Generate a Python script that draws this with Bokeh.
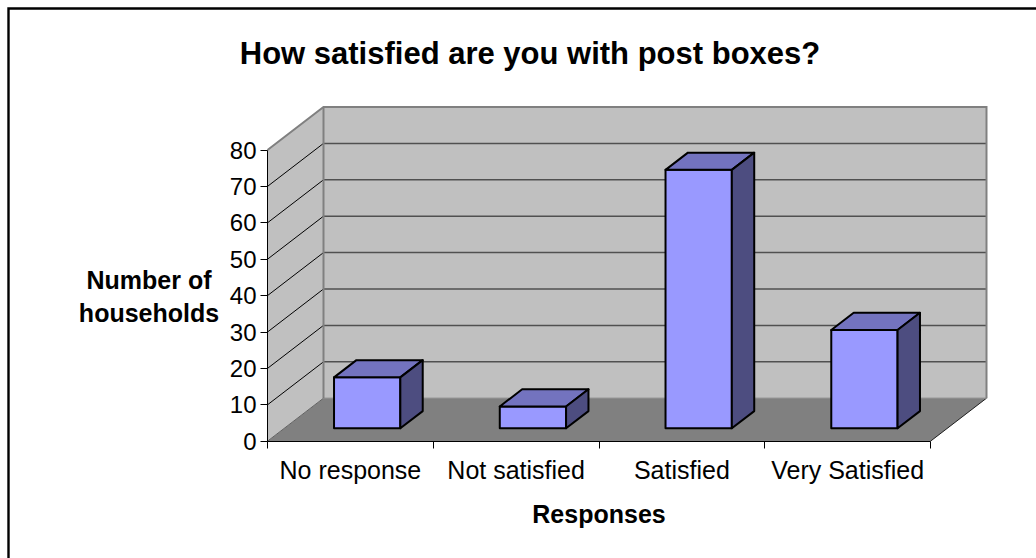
from bokeh.embed import file_html
from bokeh.resources import INLINE
from bokeh.plotting import figure
from bokeh.models import ColumnDataSource, FixedTicker, Label, Range1d

# Survey results
categories = ["No response", "Not satisfied", "Satisfied", "Very Satisfied"]
households = [14, 6, 71, 27]
value_ticks = [0, 10, 20, 30, 40, 50, 60, 70, 80]
chart_title = "How satisfied are you with post boxes?"
x_title = "Responses"
y_title = "Number of\nhouseholds"

FONT = "Liberation Sans"

# Scale of the chart in pixels per unit, and where its origin sits on the page
W, H = 1036, 558
PX_X, PX_Y = 165.75, 3.64
ORIGIN_X, ORIGIN_Y = 267.0, 440.7


def from_px(px, py):
    return (px - ORIGIN_X) / PX_X, (ORIGIN_Y - py) / PX_Y


# Oblique projection: depth 0 is the front plane, depth 1 the back wall
SHIFT_X, SHIFT_Y = 56.0 / PX_X, 43.0 / PX_Y


def project(x, v, depth=0.0):
    return x + SHIFT_X * depth, v + SHIFT_Y * depth


def polygon(points):
    xs, ys = zip(*[project(*pt) for pt in points])
    return list(xs), list(ys)


x0, y1 = from_px(0, 0)
x1, y0 = from_px(W, H)
p = figure(
    width=W, height=H, output_backend="svg", toolbar_location=None,
    x_range=Range1d(x0, x1), y_range=Range1d(y0, y1),
    min_border=0, min_border_left=0, min_border_right=0,
    min_border_top=0, min_border_bottom=0,
    background_fill_color="white", border_fill_color="white",
)
p.outline_line_color = None
p.grid.visible = False

n = len(categories)
top = value_ticks[-1]

# Floor
fx, fy = polygon([(0, 0, 0), (n, 0, 0), (n, 0, 1), (0, 0, 1)])
p.patch(fx, fy, fill_color="#808080", line_color=None)
ex, ey = polygon([(n, 0, 0), (n, 0, 1)])
p.line(ex, ey, line_color="#202020", line_width=1)

# Back and side walls
bx, by = polygon([(0, 0, 1), (n, 0, 1), (n, top, 1), (0, top, 1)])
p.patch(bx, by, fill_color="#C0C0C0", line_color=None)
sx, sy = polygon([(0, 0, 0), (0, 0, 1), (0, top, 1), (0, top, 0)])
p.patch(sx, sy, fill_color="#C0C0C0", line_color=None)

# Grid lines on both walls
for v in value_ticks[1:-1]:
    lx, ly = polygon([(0, v, 1), (n, v, 1)])
    p.line(lx, ly, line_color="#505050", line_width=1.5)
for v in value_ticks[1:-1]:
    lx, ly = polygon([(0, v, 0), (0, v, 1)])
    p.line(lx, ly, line_color="#000000", line_width=1)

# Wall outlines
ox, oy = polygon([(0, top, 0), (0, top, 1), (n, top, 1), (n, 0, 1)])
p.line(ox, oy, line_color="#808080", line_width=2, line_join="miter")
ox, oy = polygon([(0, 0, 1), (0, top, 1)])
p.line(ox, oy, line_color="#808080", line_width=2)
ox, oy = polygon([(0, 0, 0), (0, 0, 1)])
p.line(ox, oy, line_color="#606060", line_width=1)
ox, oy = polygon([(0, 0, 1), (n, 0, 1)])
p.line(ox, oy, line_color="#808080", line_width=1)

# Bars as three visible faces of a box
BAR_WIDTH = 0.4
NEAR, FAR = 0.30, 0.70
faces = {"xs": [], "ys": [], "color": []}
for i, h in enumerate(households):
    a, b = i + 0.5 - BAR_WIDTH / 2, i + 0.5 + BAR_WIDTH / 2
    for points, color in [
        ([(a, 0, NEAR), (b, 0, NEAR), (b, h, NEAR), (a, h, NEAR)], "#9999FF"),
        ([(a, h, NEAR), (b, h, NEAR), (b, h, FAR), (a, h, FAR)], "#7373BF"),
        ([(b, 0, NEAR), (b, 0, FAR), (b, h, FAR), (b, h, NEAR)], "#4D4D80"),
    ]:
        xs, ys = polygon(points)
        faces["xs"].append(xs)
        faces["ys"].append(ys)
        faces["color"].append(color)
p.patches("xs", "ys", source=ColumnDataSource(faces), fill_color="color",
          line_color="#000000", line_width=2, line_join="round")

# Value axis along the front left edge
yaxis = p.yaxis[0]
yaxis.fixed_location = 0
yaxis.bounds = (value_ticks[0], value_ticks[-1])
yaxis.ticker = FixedTicker(ticks=value_ticks)
yaxis.minor_tick_line_color = None
yaxis.axis_line_color = "#000000"
yaxis.axis_line_width = 1
yaxis.major_tick_line_color = "#000000"
yaxis.major_tick_in = 0
yaxis.major_tick_out = 7
yaxis.major_label_standoff = 4
yaxis.major_label_text_font = FONT
yaxis.major_label_text_font_size = "24px"
yaxis.major_label_text_color = "#000000"

# Category axis: names sit mid-slot, with the tick marks between them as minor ticks
xaxis = p.xaxis[0]
xaxis.fixed_location = 0
xaxis.bounds = (0, n)
xaxis.ticker = FixedTicker(ticks=[i + 0.5 for i in range(n)], minor_ticks=list(range(n + 1)))
xaxis.major_label_overrides = {i + 0.5: c for i, c in enumerate(categories)}
xaxis.axis_line_color = "#000000"
xaxis.major_tick_line_color = None
xaxis.major_tick_in = 0
xaxis.major_tick_out = 0
xaxis.minor_tick_line_color = "#000000"
xaxis.minor_tick_in = 0
xaxis.minor_tick_out = 7
xaxis.major_label_standoff = 8
xaxis.major_label_text_font = FONT
xaxis.major_label_text_font_size = "25px"
xaxis.major_label_text_color = "#000000"
xaxis.axis_label = x_title
xaxis.axis_label_text_font = FONT
xaxis.axis_label_text_font_style = "bold"
xaxis.axis_label_text_font_size = "25px"
xaxis.axis_label_text_color = "#000000"
xaxis.axis_label_standoff = 12

# Heading and the two-line value axis title, both set centred
tx, ty = from_px(529.5, 52.5)
p.add_layout(Label(x=tx, y=ty, text=chart_title, text_align="center", text_baseline="middle",
                   text_font=FONT, text_font_style="bold", text_font_size="31px",
                   text_color="#000000"))
ax, ay = from_px(148.5, 296)
p.add_layout(Label(x=ax, y=ay, text=y_title, text_align="center", text_baseline="middle",
                   text_font=FONT, text_font_style="bold", text_font_size="25px",
                   text_line_height=1.15, text_color="#000000"))

# Chart area border: only the top and left edges show
cx, cy = zip(from_px(8, H), from_px(8, 8), from_px(W, 8))
p.line(list(cx), list(cy), line_color="#000000", line_width=2.4, line_join="miter")

open("out.html", "w").write(file_html(p, INLINE))
